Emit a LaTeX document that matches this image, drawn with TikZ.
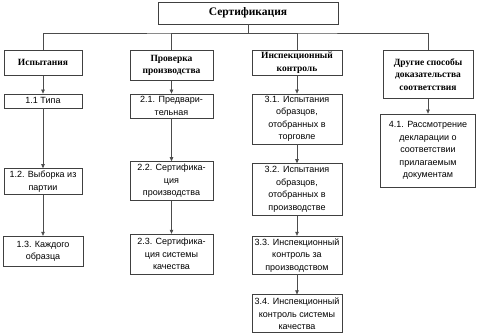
\documentclass[tikz,border=0pt]{standalone}
\usepackage{fontspec}
\setmainfont{Liberation Serif}
\setsansfont{Liberation Sans}
\usepackage{tikz}
\usetikzlibrary{arrows.meta,positioning}

\begin{document}
\begin{tikzpicture}[
  x=1pt, y=1pt,
  node distance=18pt,
  top/.style={draw=black!75, line width=0.6pt, minimum width=180pt,
              minimum height=22pt, align=center,
              font=\fontsize{11.5}{13}\selectfont\bfseries},
  head/.style={draw=black!75, line width=0.6pt, align=center, inner sep=1.5pt,
               font=\fontsize{9.5}{12.5}\selectfont\bfseries},
  item/.style={draw=black!75, line width=0.6pt, align=center, inner sep=2pt,
               font=\sffamily\fontsize{9}{12.5}\selectfont},
  link/.style={draw=black!70, line width=0.6pt},
  arr/.style={link, -{Triangle[length=4pt, width=3.5pt]}}
]
  \useasboundingbox (0,0) rectangle (479,-333);

  \node[top] (cert) at (248,-13) {Сертификация};
  \coordinate (bus) at (248,-33);

  % top row
  \node[head, anchor=north, minimum width=78pt, minimum height=25pt] (isp) at (43,-50) {Испытания};
  \node[head, anchor=north, minimum width=83pt, minimum height=30pt] (prov) at (171.5,-50) {Проверка\\производства};
  \node[head, anchor=north, minimum width=90pt, minimum height=25pt] (insp) at (297,-50) {Инспекционный\\контроль};
  \node[head, anchor=north, minimum width=90pt, minimum height=48pt] (drug) at (428,-50) {Другие способы\\доказательства\\соответствия};

  % column 1
  \node[item, below=18pt of isp, minimum width=78pt, minimum height=14pt] (t11) {1.1 Типа};
  \node[item, below=60pt of t11, minimum width=78pt, minimum height=26pt] (t12) {1.2. Выборка из\\партии};
  \node[item, below=41pt of t12, minimum width=80pt, minimum height=30pt] (t13) {1.3. Каждого\\образца};

  % column 2
  \node[item, below=13pt of prov, minimum width=83pt, minimum height=24pt] (p21) {2.1. Предвари-\\тельная};
  \node[item, below=43pt of p21, minimum width=83pt, minimum height=39pt] (p22) {2.2. Сертифика-\\ция\\производства};
  \node[item, below=33pt of p22, minimum width=83pt, minimum height=40pt] (p23) {2.3. Сертифика-\\ция системы\\качества};

  % column 3
  \node[item, below=18pt of insp, minimum width=90pt, minimum height=50pt] (i31) {3.1. Испытания\\образцов,\\отобранных в\\торговле};
  \node[item, below=19pt of i31, minimum width=90pt, minimum height=52pt] (i32) {3.2. Испытания\\образцов,\\отобранных в\\производстве};
  \node[item, below=20pt of i32, minimum width=90pt, minimum height=38pt] (i33) {3.3. Инспекционный\\контроль за\\производством};
  \node[item, below=20pt of i33, minimum width=90pt, minimum height=38pt] (i34) {3.4. Инспекционный\\контроль системы\\качества};

  % column 4
  \node[item, below=15pt of drug, minimum width=95pt, minimum height=73pt] (d41) {4.1. Рассмотрение\\декларации о\\соответствии\\прилагаемым\\документам};

  \draw[link] (cert) -- (bus);
  \draw[link] (isp.north) |- (bus) -| (drug.north);
  \draw[link] (prov.north) |- (bus);
  \draw[link] (insp.north) |- (bus);

  \draw[arr] (isp) -- (t11);
  \draw[arr] (t11) -- (t12);
  \draw[arr] (t12) -- (t13);
  \draw[arr] (prov) -- (p21);
  \draw[arr] (p21) -- (p22);
  \draw[arr] (p22) -- (p23);
  \draw[arr] (insp) -- (i31);
  \draw[arr] (i31) -- (i32);
  \draw[arr] (i32) -- (i33);
  \draw[arr] (i33) -- (i34);
  \draw[arr] (drug) -- (d41);
\end{tikzpicture}
\end{document}
